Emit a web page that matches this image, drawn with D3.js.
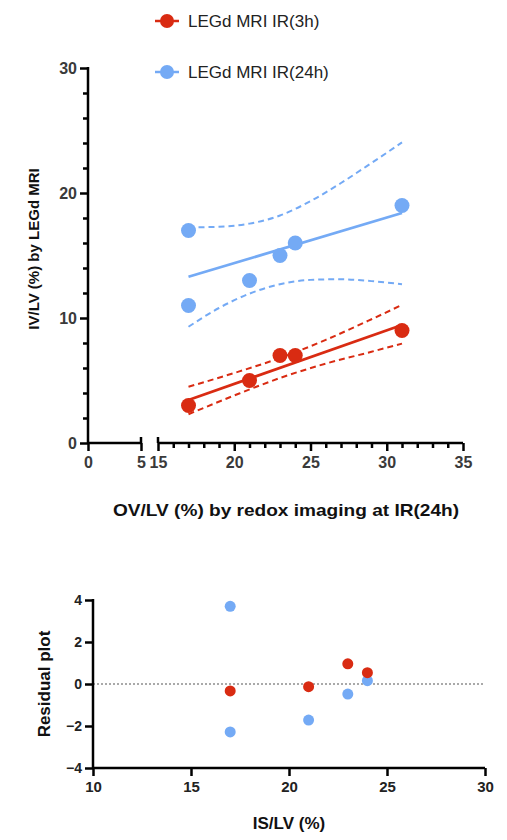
<!DOCTYPE html>
<html>
<head>
<meta charset="utf-8">
<script src="https://cdn.jsdelivr.net/npm/d3@7"></script>
<style>
  body { margin: 0; background: #fff; }
  svg text { font-family: "Liberation Sans", Arial, sans-serif; }
</style>
</head>
<body>
<div class="chart"></div>
<script>
// data
var seriesNames = ["LEGd MRI IR(3h)", "LEGd MRI IR(24h)"];
var redX = [17, 21, 23, 24, 31];
var redY = [3, 5, 7, 7, 9];
var blueX = [17, 17, 21, 23, 24, 31];
var blueY = [17, 11, 13, 15, 16, 19];

// fitted lines (end points)
var fitX = [17, 31];
var redFitY = [3.44, 9.44];
var blueFitY = [13.3, 18.4];

// 95% bands
var redBandX = [17, 20, 23, 26, 29, 31];
var redUpper = [4.5, 5.6, 6.8, 8.25, 9.9, 11.05];
var redLower = [2.3, 3.8, 5.2, 6.35, 7.3, 7.95];
var blueBandX = [17, 19, 21, 23, 25, 27, 29, 31];
var blueUpper = [17.25, 17.3, 17.55, 18.2, 19.35, 20.8, 22.4, 24.05];
var blueLower = [9.3, 10.8, 11.95, 12.7, 13.05, 13.1, 12.95, 12.7];

// residuals
var redResX = [17, 21, 23, 24];
var redRes = [-0.33, -0.13, 0.96, 0.54];
var blueResX = [17, 17, 21, 23, 24];
var blueRes = [3.7, -2.28, -1.72, -0.48, 0.16];

// ticks
var yTicks = [0, 10, 20, 30];
var yMinor = [2, 4, 6, 8, 12, 14, 16, 18, 22, 24, 26, 28];
var xTicksA = [0, 5];
var xTicksB = [15, 20, 25, 30, 35];
var xMinorB = [16, 17, 18, 19, 21, 22, 23, 24, 26, 27, 28, 29, 31, 32, 33, 34];
var resYTicks = [-4, -2, 0, 2, 4];
var resXTicks = [10, 15, 20, 25, 30];

var red = "#d92b12", blue = "#74aaf5";

var svg = d3.select("div.chart").append("svg")
  .attr("width", 507).attr("height", 840);

// draws one axis into its own group, no domain path
function axisGroup(parent, axis, tx, ty) {
  var g = parent.append("g").attr("transform", "translate(" + tx + "," + ty + ")").call(axis);
  g.select("path.domain").remove();
  g.selectAll("line").attr("stroke", "#000").attr("stroke-width", 2.5);
  return g;
}
function styleLabels(g, size, color) {
  g.attr("font-size", size).attr("font-weight", "bold");
  g.selectAll("text").attr("fill", color)
    .style("font-size", size + "px").style("font-weight", "bold");
}

// ---------- top chart ----------
var y = d3.scaleLinear().domain([0, 30]).range([443, 68]);
var xa = d3.scaleLinear().domain([0, 5]).range([88, 141]);
var xb = d3.scaleLinear().domain([15, 35]).range([158, 463]);

var gTop = svg.append("g");

// y axis
axisGroup(gTop, d3.axisLeft(y).tickValues(yMinor).tickSize(5).tickFormat(""), 88, 0);
var yAx = axisGroup(gTop, d3.axisLeft(y).tickValues(yTicks).tickSize(8).tickPadding(3), 88, 0);
styleLabels(yAx, 16, "#3a3a3a");
gTop.append("line").attr("x1", 88).attr("x2", 88).attr("y1", y(30) - 1).attr("y2", y(0) + 1)
  .attr("stroke", "#000").attr("stroke-width", 2.5);

// x axis, two segments
var xA = axisGroup(gTop, d3.axisBottom(xa).tickValues(xTicksA).tickSize(8).tickPadding(6).tickFormat(d3.format("d")), 0, 443);
styleLabels(xA, 16, "#3a3a3a");
axisGroup(gTop, d3.axisBottom(xb).tickValues(xMinorB).tickSize(5).tickFormat(""), 0, 443);
var xB = axisGroup(gTop, d3.axisBottom(xb).tickValues(xTicksB).tickSize(8).tickPadding(6).tickFormat(d3.format("d")), 0, 443);
styleLabels(xB, 16, "#3a3a3a");

var axLines = gTop.append("g").attr("stroke", "#000").attr("stroke-width", 2.5);
axLines.append("line").attr("x1", xa(0)).attr("x2", xa(5)).attr("y1", 443).attr("y2", 443);
axLines.append("line").attr("x1", xa(5)).attr("x2", xa(5)).attr("y1", 437).attr("y2", 443);
axLines.append("line").attr("x1", xb(15)).attr("x2", xb(35)).attr("y1", 443).attr("y2", 443);
axLines.append("line").attr("x1", xb(15)).attr("x2", xb(15)).attr("y1", 437).attr("y2", 443);

// bands
var bandLine = function (xs, ys) {
  return d3.line().curve(d3.curveMonotoneX)(xs.map(function (d, i) { return [xb(d), y(ys[i])]; }));
};
[[blueBandX, blueUpper, blue], [blueBandX, blueLower, blue],
 [redBandX, redUpper, red], [redBandX, redLower, red]].forEach(function (b) {
  gTop.append("path").attr("d", bandLine(b[0], b[1]))
    .attr("fill", "none").attr("stroke", b[2]).attr("stroke-width", 2)
    .attr("stroke-dasharray", "6,4");
});

// fit lines
[[blueFitY, blue], [redFitY, red]].forEach(function (f) {
  gTop.append("path").attr("d", bandLine(fitX, f[0]))
    .attr("fill", "none").attr("stroke", f[1]).attr("stroke-width", 2.8);
});

// points
function dots(g, xs, ys, sx, sy, r, c) {
  g.selectAll(null).data(xs).enter().append("circle")
    .attr("cx", function (d) { return sx(d); })
    .attr("cy", function (d, i) { return sy(ys[i]); })
    .attr("r", r).attr("fill", c);
}
dots(gTop, blueX, blueY, xb, y, 7.5, blue);
dots(gTop, redX, redY, xb, y, 7.5, red);

// axis titles
gTop.append("text").attr("x", 286).attr("y", 516).attr("text-anchor", "middle")
  .attr("textLength", 346).attr("lengthAdjust", "spacingAndGlyphs")
  .style("font-size", "17px").style("font-weight", "bold").attr("fill", "#111")
  .text("OV/LV (%) by redox imaging at IR(24h)");
gTop.append("text").attr("transform", "translate(39,249) rotate(-90)").attr("text-anchor", "middle")
  .style("font-size", "15px").style("font-weight", "bold").attr("fill", "#111")
  .text("IV/LV (%) by LEGd MRI");

// legend
var legend = gTop.selectAll("g.leg").data(seriesNames).enter().append("g")
  .attr("transform", function (d, i) { return "translate(167," + (21 + i * 51) + ")"; });
legend.append("line").attr("x1", -12).attr("x2", 12)
  .attr("stroke", function (d, i) { return i ? blue : red; }).attr("stroke-width", 2.5);
legend.append("circle").attr("r", 7).attr("fill", function (d, i) { return i ? blue : red; });
legend.append("text").attr("x", 21).attr("dy", "0.35em")
  .style("font-size", "17px").attr("fill", "#222").text(function (d) { return d; });

// ---------- residual plot ----------
var ry = d3.scaleLinear().domain([-4, 4]).range([768, 600]);
var rx = d3.scaleLinear().domain([10, 30]).range([93, 485]);
var bot = svg.append("g");

bot.append("line").attr("x1", rx(10)).attr("x2", rx(30)).attr("y1", ry(0)).attr("y2", ry(0))
  .attr("stroke", "#555").attr("stroke-width", 1.2).attr("stroke-dasharray", "2,2");

var ryAx = axisGroup(bot, d3.axisLeft(ry).tickValues(resYTicks).tickSize(8).tickPadding(3).tickFormat(d3.format("d")), 93, 0);
var rxAx = axisGroup(bot, d3.axisBottom(rx).tickValues(resXTicks).tickSize(8).tickPadding(5), 0, 768);
styleLabels(ryAx, 14, "#222");
styleLabels(rxAx, 15, "#222");
bot.append("line").attr("x1", 93).attr("x2", 93).attr("y1", ry(4) - 1).attr("y2", ry(-4) + 1)
  .attr("stroke", "#000").attr("stroke-width", 2.5);
bot.append("line").attr("x1", rx(10)).attr("x2", rx(30)).attr("y1", 768).attr("y2", 768)
  .attr("stroke", "#000").attr("stroke-width", 2.5);

dots(bot, blueResX, blueRes, rx, ry, 5.5, blue);
dots(bot, redResX, redRes, rx, ry, 5.5, red);

bot.append("text").attr("transform", "translate(50,684) rotate(-90)").attr("text-anchor", "middle")
  .style("font-size", "17px").style("font-weight", "bold").attr("fill", "#111")
  .text("Residual plot");
bot.append("text").attr("x", 289).attr("y", 829).attr("text-anchor", "middle")
  .style("font-size", "17px").style("font-weight", "bold").attr("fill", "#111")
  .text("IS/LV (%)");
</script>
</body>
</html>
